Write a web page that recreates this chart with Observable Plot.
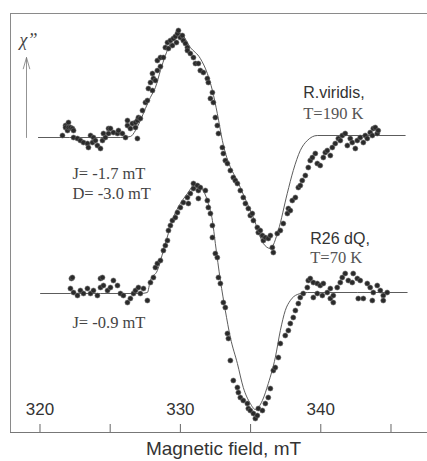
<!DOCTYPE html>
<html>
<head>
<meta charset="utf-8">
<script src="https://cdn.jsdelivr.net/npm/d3@7"></script>
<script src="https://cdn.jsdelivr.net/npm/@observablehq/plot@0.6"></script>
<style>
  html, body { margin: 0; padding: 0; background: #fff; }
  #chart { width: 427px; height: 461px; }
</style>
</head>
<body>
<div id="chart"></div>
<script>
// ---- Data (field in mT, chi'' in arbitrary units relative to each baseline) ----
const topOffset = 1.56;   // vertical offset of the R.viridis trace
const botOffset = 0;      // vertical offset of the R26 dQ trace

// R.viridis, T=190 K : simulated fit
const topFitField = [319.89,324.31,325.73,326.44,326.80,327.15,327.51,327.86,328.22,328.58,328.93,329.29,329.64,329.86,330.00,330.71,331.42,331.92,332.28,332.63,332.99,334.27,335.20,335.91,336.41,336.97,337.61,338.04,338.54,339.04,339.75,346.01];
const topFitChi   = [0,0,0,0.01,0.07,0.17,0.29,0.40,0.50,0.67,0.82,0.94,1.02,1.04,1.04,0.90,0.79,0.64,0.47,0.24,-0.03,-0.50,-0.80,-1.06,-1.11,-0.93,-0.56,-0.33,-0.13,-0.03,0.02,0.02];

// R.viridis, T=190 K : experimental points
const topDotField = [321.60,321.82,321.82,321.96,322.03,322.03,322.17,322.31,322.39,322.39,322.67,322.88,323.10,323.38,323.45,323.60,323.74,323.81,323.95,324.09,324.31,324.45,324.52,324.66,324.88,324.88,325.02,325.23,325.52,325.59,325.87,326.09,326.23,326.23,326.44,326.58,326.80,326.80,326.94,326.94,327.01,327.15,327.30,327.51,327.65,327.72,327.87,328.01,328.08,328.22,328.01,328.36,328.36,328.58,328.58,328.79,328.93,329.08,329.15,329.29,329.43,329.50,329.64,329.72,329.79,329.86,330.00,330.14,330.21,330.36,330.50,330.50,330.71,330.93,331.07,331.28,331.42,331.64,331.92,331.99,332.28,332.14,332.35,332.49,332.63,332.71,332.99,333.06,333.20,333.35,333.56,333.77,333.91,334.06,334.27,334.48,334.63,334.84,334.98,335.12,335.20,335.48,335.55,335.69,335.84,335.91,336.05,336.26,336.41,336.55,336.62,336.90,337.12,337.33,337.62,337.69,337.83,337.97,338.19,338.40,338.54,338.68,338.90,339.11,339.25,339.40,339.61,339.75,339.96,340.18,340.32,340.46,340.68,340.82,341.03,341.25,341.39,341.53,341.74,341.89,342.10,342.24,342.46,342.60,342.81,343.03,343.17,343.31,343.52,343.67,343.74,343.88,344.02,344.09];
const topDotChi   = [0.02,0.12,0.10,0.07,0.15,0.10,0.10,0.09,0.07,0.00,-0.01,-0.03,-0.05,-0.06,-0.10,0.02,-0.05,0.00,-0.03,-0.08,-0.11,-0.03,0.04,0.00,0.04,0.09,0.09,0.05,0.04,0.07,0.04,0.00,0.12,0.17,0.09,0.14,0.10,0.15,-0.01,0.17,0.20,0.19,0.27,0.35,0.37,0.49,0.55,0.64,0.59,0.57,0.47,0.67,0.77,0.80,0.71,0.80,0.90,0.95,0.89,0.97,0.92,0.99,1.01,0.95,1.04,1.07,1.00,1.02,0.97,0.94,0.90,0.87,0.84,0.80,0.74,0.74,0.67,0.65,0.59,0.55,0.45,0.39,0.35,0.20,0.12,0.04,-0.10,-0.16,-0.23,-0.26,-0.33,-0.40,-0.43,-0.46,-0.53,-0.60,-0.66,-0.71,-0.78,-0.76,-0.83,-0.90,-0.95,-0.93,-0.98,-1.03,-1.00,-1.01,-0.98,-1.10,-1.15,-0.96,-0.93,-0.86,-0.76,-0.71,-0.73,-0.63,-0.60,-0.50,-0.48,-0.43,-0.38,-0.30,-0.23,-0.20,-0.16,-0.26,-0.28,-0.20,-0.15,-0.13,-0.18,-0.10,-0.06,-0.01,-0.03,0.02,0.04,-0.08,-0.01,-0.05,-0.11,-0.03,0.00,-0.05,0.02,-0.01,0.05,0.02,0.09,0.10,0.04,0.07];

// R26 dQ, T=70 K : simulated fit
const botFitField = [320.04,324.31,327.15,327.65,327.86,328.36,328.79,329.14,329.50,330.00,330.50,330.92,331.21,331.63,331.99,332.28,332.49,332.85,333.20,333.56,334.06,334.48,334.98,335.34,335.84,336.26,336.76,337.12,337.47,337.83,338.33,339.04,346.15];
const botFitChi   = [0,0,0,0.01,0.13,0.23,0.43,0.60,0.76,0.90,1.00,1.08,1.10,1.03,0.90,0.73,0.50,0.13,-0.17,-0.44,-0.70,-0.94,-1.10,-1.16,-1.07,-0.90,-0.64,-0.37,-0.17,-0.07,-0.01,0.01,0.01];

// R26 dQ, T=70 K : experimental points
const botDotField = [322.24,322.31,322.17,322.39,322.67,322.88,323.10,323.38,323.60,323.81,324.09,324.31,324.31,324.45,324.52,324.81,325.02,325.23,325.52,325.73,325.94,326.23,326.44,326.66,326.80,327.01,327.15,327.37,327.65,327.87,328.08,328.22,328.36,328.58,328.79,328.93,329.08,329.15,329.29,329.43,329.64,329.79,330.00,330.21,330.50,330.57,330.71,330.93,330.93,331.21,331.28,331.28,331.42,331.78,331.92,331.99,332.14,332.28,332.28,332.49,332.63,332.71,332.85,333.06,333.20,333.35,333.42,333.56,333.77,334.06,334.13,334.27,334.48,334.77,334.84,334.98,335.20,335.34,335.48,335.55,335.84,336.05,336.26,336.41,336.62,336.76,336.98,337.12,337.47,337.69,337.83,338.04,338.19,338.40,338.54,338.75,339.04,339.11,339.25,339.47,339.75,339.96,340.18,339.47,339.75,340.11,340.46,340.68,340.89,340.89,340.68,341.17,341.39,341.53,341.74,341.96,342.24,342.31,342.60,342.81,342.67,343.03,343.31,343.52,343.74,344.02,344.24,344.45,344.73,343.67,344.45];
const botDotChi   = [0.15,0.16,0.05,0.01,-0.02,0.03,0.00,0.05,0.00,0.03,-0.02,0.06,0.15,0.16,0.08,0.03,0.06,0.13,0.08,0.00,-0.02,-0.09,-0.05,0.00,0.03,0.06,0.00,0.05,-0.07,0.11,0.16,0.26,0.30,0.33,0.43,0.48,0.53,0.63,0.68,0.73,0.76,0.81,0.86,0.91,0.96,0.90,1.00,1.05,1.10,1.08,1.03,0.95,1.06,1.03,0.93,0.86,0.80,0.68,0.56,0.40,0.36,0.16,0.10,-0.09,-0.14,-0.40,-0.45,-0.67,-0.87,-0.94,-0.99,-1.04,-1.07,-1.10,-1.15,-1.17,-1.20,-1.25,-1.22,-1.15,-1.17,-1.10,-1.04,-0.95,-0.77,-0.74,-0.64,-0.50,-0.42,-0.37,-0.30,-0.24,-0.17,-0.10,-0.04,0.00,0.06,0.13,0.15,0.11,0.10,0.08,0.10,-0.04,0.00,-0.02,0.01,-0.05,-0.02,-0.09,0.05,0.06,0.11,0.16,0.20,0.13,0.11,0.20,0.15,0.13,-0.05,-0.05,0.10,0.06,0.01,0.08,0.03,-0.02,0.01,-0.07,-0.07];

// axis
const tickValues = [320, 325, 330, 335, 340, 345];
const tickLabels = ["320", "330", "340"];
const xLabel = "Magnetic field, mT";
const yLabel = "χ”";

// ---- Build tables ----
const mk = (fs, cs, off) => fs.map((f, i) => ({field: f, chi: cs[i] + off}));
const topFit = mk(topFitField, topFitChi, topOffset);
const topDots = mk(topDotField, topDotChi, topOffset);
const botFit = mk(botFitField, botFitChi, botOffset);
const botDots = mk(botDotField, botDotChi, botOffset);

const xDom = [317.9, 347.6];
const yDom = [-1.39, 2.80];

const serif = "Liberation Serif, Times New Roman, serif";
const sans = "Liberation Sans, Arial, sans-serif";

const dotStyle = {x: "field", y: "chi", r: 2.5, fill: "#2a2a2a", stroke: "#6a6a6a", strokeWidth: 0.6};
const lineStyle = {x: "field", y: "chi", stroke: "#4a4a4a", strokeWidth: 0.9, curve: "monotone-x"};

const chart = Plot.plot({
  width: 427,
  height: 461,
  marginLeft: 10,
  marginRight: 0,
  marginTop: 13,
  marginBottom: 29,
  x: {domain: xDom, axis: null},
  y: {domain: yDom, axis: null},
  style: {background: "#fff"},
  marks: [
    // frame (left, top, bottom; open on the right)
    Plot.ruleY([yDom[1]], {stroke: "#8a8a8a", strokeWidth: 1}),
    Plot.ruleY([yDom[0]], {stroke: "#777", strokeWidth: 1}),
    Plot.ruleX([xDom[0]], {stroke: "#8a8a8a", strokeWidth: 1}),
    // ticks pointing inward from the bottom axis
    Plot.tickX(tickValues, {x: d => d, stroke: "#666", strokeWidth: 1, insetTop: 411}),
    Plot.text(tickLabels, {x: d => +d, text: d => d, frameAnchor: "bottom", dy: -18, fontSize: 17, fontFamily: sans, fill: "#333"}),
    Plot.text([xLabel], {text: d => d, frameAnchor: "bottom", dx: 4.5, dy: 22, fontSize: 19, fontFamily: sans, fill: "#333"}),
    // y indicator
    Plot.arrow([0], {x1: 319.04, y1: 1.56, x2: 319.04, y2: 2.36, stroke: "#777", strokeWidth: 0.8, headLength: 22, headAngle: 32}),
    Plot.text([yLabel], {x: 319.18, y: 2.53, text: d => d, fontSize: 18, fontFamily: serif, fontStyle: "italic", fill: "#444"}),
    // fits
    Plot.line(topFit, lineStyle),
    Plot.line(botFit, lineStyle),
    // experimental points
    Plot.dot(topDots, dotStyle),
    Plot.dot(botDots, dotStyle),
    // annotations
    Plot.text(["R.viridis,"], {x: 338.75, y: 2.01, text: d => d, textAnchor: "start", fontSize: 16, fontFamily: sans, fill: "#333"}),
    Plot.text(["T=190 K"], {x: 338.75, y: 1.80, text: d => d, textAnchor: "start", fontSize: 16.5, fontFamily: serif, fill: "#555"}),
    Plot.text(["J= -1.7 mT"], {x: 322.31, y: 1.20, text: d => d, textAnchor: "start", fontSize: 16.5, fontFamily: serif, fill: "#444"}),
    Plot.text(["D= -3.0 mT"], {x: 322.31, y: 1.00, text: d => d, textAnchor: "start", fontSize: 16.5, fontFamily: serif, fill: "#444"}),
    Plot.text(["R26 dQ,"], {x: 339.25, y: 0.55, text: d => d, textAnchor: "start", fontSize: 16, fontFamily: sans, fill: "#333"}),
    Plot.text(["T=70 K"], {x: 339.25, y: 0.36, text: d => d, textAnchor: "start", fontSize: 16.5, fontFamily: serif, fill: "#555"}),
    Plot.text(["J= -0.9 mT"], {x: 322.31, y: -0.29, text: d => d, textAnchor: "start", fontSize: 16.5, fontFamily: serif, fill: "#444"})
  ]
});
document.getElementById("chart").appendChild(chart);
</script>
</body>
</html>
